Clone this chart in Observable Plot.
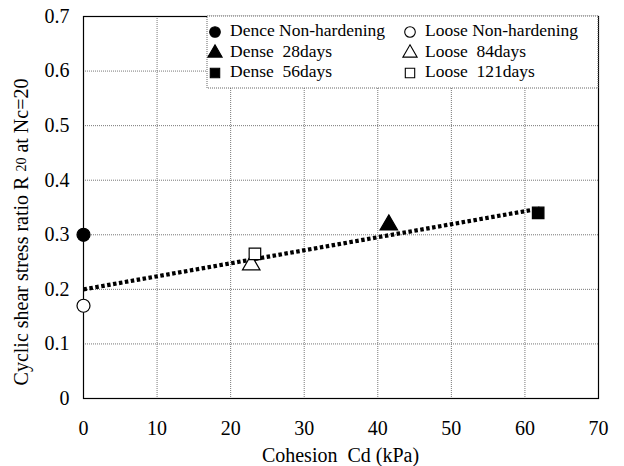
<!DOCTYPE html>
<html>
<head>
<meta charset="utf-8">
<script src="https://cdn.jsdelivr.net/npm/d3@7"></script>
<script src="https://cdn.jsdelivr.net/npm/@observablehq/plot@0.6"></script>
<style>
  html, body { margin: 0; padding: 0; background: #fff; }
  #chart { position: relative; width: 624px; height: 466px; }
  svg { font-family: "Liberation Serif", "Times New Roman", serif; }
</style>
</head>
<body>
<div id="chart"></div>
<script>
// ---- data ----
const series = ["Dence Non-hardening", "Loose Non-hardening", "Dense  28days", "Loose  84days", "Dense  56days", "Loose  121days"];
const symbols = ["circle", "circle", "triangle", "triangle", "square", "square"];
const filled = [true, false, true, false, true, false];
const cohesion = [0, 0, 41.5, 22.8, 61.8, 23.3];
const ratio = [0.30, 0.17, 0.318, 0.245, 0.34, 0.265];
const trendX = [0, 62];
const trendY = [0.2, 0.348];
const xTicks = [0, 10, 20, 30, 40, 50, 60, 70];
const yTicks = [0, 0.1, 0.2, 0.3, 0.4, 0.5, 0.6, 0.7];
const xLabel = "Cohesion  Cd (kPa)";
const yLabelParts = ["Cyclic shear stress ratio R ", "20", " at Nc=20"];

const points = series.map((s, i) => ({ s, x: cohesion[i], y: ratio[i], sym: symbols[i], filled: filled[i] }));
const trend = trendX.map((x, i) => ({ x, y: trendY[i] }));

const W = 624, H = 466;
const chart = Plot.plot({
  width: W, height: H,
  marginLeft: 83, marginRight: 26, marginTop: 16, marginBottom: 68,
  style: { fontFamily: "'Liberation Serif', serif", fontSize: "20px", color: "#000", background: "#fff" },
  x: { domain: [0, 70], ticks: xTicks, label: null },
  y: { domain: [0, 0.7], ticks: yTicks, label: null },
  marks: [
    Plot.gridX(xTicks.slice(1, -1), { stroke: "#777", strokeOpacity: 1, strokeWidth: 1, strokeDasharray: "1,1" }),
    Plot.gridY(yTicks.slice(1, -1), { stroke: "#777", strokeOpacity: 1, strokeWidth: 1, strokeDasharray: "1,1" }),
    Plot.frame({ stroke: "#000", strokeWidth: 1.2 }),
    Plot.axisX({ ticks: xTicks, tickSize: 0, tickPadding: 22, tickFormat: d => String(d), fontSize: 20 }),
    Plot.axisY({ ticks: yTicks, tickSize: 0, tickPadding: 14, tickFormat: d => d === 0 ? "0" : d.toFixed(1), fontSize: 20 }),
    Plot.line(trend, { x: "x", y: "y", stroke: "#000", strokeWidth: 4.2, strokeDasharray: "3.5,2.5", strokeLinecap: "butt" }),
    Plot.dot(points, { x: "x", y: "y", symbol: "sym", r: 6.5, fill: d => d.filled ? "#000" : "#fff", stroke: "#000", strokeWidth: 1.2 })
  ]
});
document.getElementById("chart").appendChild(chart);

const svg = d3.select(chart);
// x-axis label
svg.append("text")
  .attr("x", (83 + 598) / 2).attr("y", 457)
  .attr("text-anchor", "middle").attr("dominant-baseline", "middle")
  .style("white-space", "pre").attr("font-size", 20).attr("fill", "#000")
  .text(xLabel);
// y-axis label with subscript
const yl = svg.append("text")
  .attr("transform", "translate(23,232) rotate(-90)")
  .attr("text-anchor", "middle").attr("dominant-baseline", "middle")
  .style("white-space", "pre").attr("font-size", 20).attr("fill", "#000");
yl.append("tspan").text(yLabelParts[0]);
yl.append("tspan").attr("font-size", 14).text(yLabelParts[1]);
yl.append("tspan").text(yLabelParts[2]);

// legend
const lg = svg.append("g");
lg.append("rect").attr("x", 207).attr("y", 16).attr("width", 598 - 207).attr("height", 88 - 16)
  .attr("fill", "#fff").attr("stroke", "#666").attr("stroke-width", 1).attr("stroke-dasharray", "1,1");
const rowsY = [32, 53, 73];
const colX = [215, 410];
const symMap = { circle: d3.symbolCircle, triangle: d3.symbolTriangle, square: d3.symbolSquare };
series.forEach((s, i) => {
  const cx = colX[i % 2], cy = rowsY[Math.floor(i / 2)];
  const area = Math.PI * 5.3 * 5.3;
  lg.append("path").attr("d", d3.symbol(symMap[symbols[i]], area)())
    .attr("transform", `translate(${cx},${cy})`)
    .attr("fill", filled[i] ? "#000" : "#fff").attr("stroke", "#000").attr("stroke-width", 1.1);
  lg.append("text").attr("x", cx + 15).attr("y", cy).attr("dominant-baseline", "middle")
    .attr("text-anchor", "start")
    .style("white-space", "pre").attr("font-size", 17.5).attr("fill", "#000").text(s);
});
</script>
</body>
</html>
